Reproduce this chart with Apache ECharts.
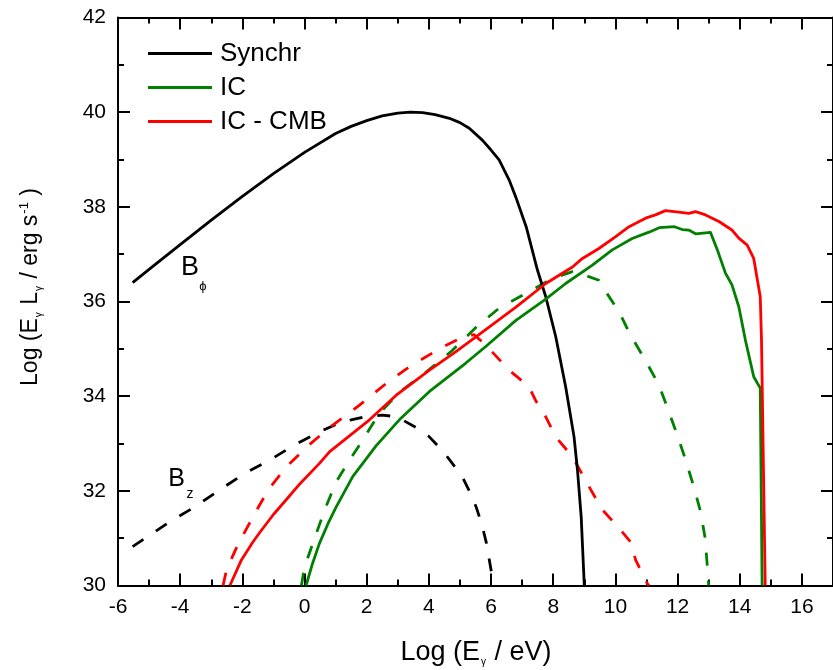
<!DOCTYPE html>
<html><head><meta charset="utf-8">
<script src="https://cdn.jsdelivr.net/npm/echarts@6/dist/echarts.min.js"></script>
<style>html,body{margin:0;padding:0;background:#fff}#c{width:833px;height:670px}</style>
</head><body><div id="c"></div><script>
// ---- axis settings ----
const xMin = -6, xMax = 17, xStep = 2;
const yMin = 30, yMax = 42, yStep = 2;
const legendNames = ['Synchr', 'IC', 'IC - CMB'];

// ---- B_phi (solid) curves: [log E, log EL] ----
const synchrPhi = [[-5.53,36.40],[-5,36.68],[-4,37.2],[-3,37.72],[-2,38.22],[-1,38.7],[0,39.15],[1,39.55],[1.5,39.7],[2,39.82],[2.5,39.92],[3,39.98],[3.4,40.0],[3.8,39.99],[4.2,39.95],[4.66,39.87],[5.0,39.78],[5.3,39.66],[5.72,39.41],[6.0,39.2],[6.26,38.99],[6.58,38.57],[6.8,38.2],[7.13,37.58],[7.49,36.67],[7.76,36.1],[8.08,35.26],[8.4,34.2],[8.67,33.14],[8.78,32.44],[8.9,31.45],[9.0,30.0]];
const icPhi = [[0.05,30.0],[0.25,30.45],[0.48,30.89],[0.75,31.3],[1.02,31.66],[1.55,32.3],[2.3,32.95],[3.05,33.5],[4.02,34.1],[5.19,34.7],[5.83,35.05],[6.8,35.6],[7.76,36.05],[8.4,36.38],[9.26,36.77],[9.9,37.09],[10.54,37.33],[11.1,37.47],[11.41,37.56],[11.9,37.58],[12.15,37.52],[12.36,37.51],[12.58,37.43],[13.06,37.46],[13.28,37.09],[13.54,36.6],[13.75,36.35],[13.97,35.89],[14.18,35.19],[14.45,34.41],[14.66,34.17],[14.72,30.0]];
const icCmbPhi = [[-2.4,30.0],[-2.03,30.54],[-1.66,30.92],[-1.44,31.12],[-1.0,31.5],[-0.5,31.88],[-0.16,32.14],[0.48,32.58],[0.81,32.83],[2.09,33.5],[2.95,34.02],[4.02,34.55],[4.87,34.94],[5.73,35.36],[6.8,35.88],[7.76,36.38],[8.62,36.73],[8.94,36.91],[9.47,37.12],[10.01,37.37],[10.44,37.58],[10.97,37.76],[11.29,37.83],[11.61,37.92],[12.04,37.89],[12.36,37.86],[12.58,37.9],[12.9,37.83],[13.33,37.69],[13.75,37.51],[13.97,37.34],[14.24,37.19],[14.45,36.91],[14.66,36.1],[14.7,35.19],[14.82,30.0]];

// ---- B_z (dashed) curves ----
const synchrZ = [[-5.53,30.82],[-4.33,31.35],[-3.53,31.66],[-2.73,32.02],[-1.92,32.37],[-1.12,32.65],[-0.32,32.97],[0.5,33.25],[1.0,33.4],[1.5,33.5],[2.0,33.57],[2.5,33.6],[2.9,33.57],[3.2,33.48],[3.53,33.36],[4.0,33.15],[4.44,32.85],[4.87,32.48],[5.08,32.29],[5.3,32.0],[5.52,31.66],[5.7,31.3],[5.85,30.9],[6.04,30.18],[6.08,30.0]];
const icZ = [[-0.1,30.0],[0.0,30.39],[0.38,31.1],[0.65,31.6],[1.02,32.19],[1.4,32.6],[1.77,32.97],[2.41,33.64],[3.05,34.08],[3.8,34.45],[4.76,34.97],[5.51,35.45],[6.26,35.86],[7.12,36.17],[7.98,36.49],[8.62,36.63],[9.0,36.56],[9.47,36.45],[9.69,36.21],[10.12,35.78],[10.44,35.35],[11.02,34.69],[11.4,34.24],[11.72,33.67],[11.99,33.18],[12.26,32.65],[12.52,32.09],[12.74,31.56],[12.88,31.03],[12.95,30.47],[13.0,30.0]];
const icCmbZ = [[-2.62,30.0],[-2.51,30.33],[-2.14,30.87],[-1.6,31.52],[-1.17,32.02],[-0.58,32.51],[0.16,32.98],[0.91,33.39],[1.77,33.81],[2.63,34.27],[3.37,34.62],[4.44,35.04],[5.0,35.22],[5.45,35.3],[5.83,35.08],[6.58,34.55],[7.22,34.2],[7.44,33.9],[7.65,33.71],[8.08,33.14],[8.62,32.72],[9.15,32.09],[9.58,31.6],[10.12,31.21],[10.49,30.92],[10.65,30.54],[11.02,30.05],[11.08,30.0]];

const FF = '"Liberation Sans", Arial, Helvetica, sans-serif';
const BLACK = '#000000', GREEN = '#008000', RED = '#ff0000';

const chart = echarts.init(document.getElementById('c'), null, {renderer: 'canvas'});

function xAx(pos, show) {
  return {
    type: 'value', position: pos, min: xMin, max: xMax, interval: xStep,
    axisLine: {show: true, onZero: false, lineStyle: {color: BLACK, width: 2}},
    axisTick: {show: true, inside: true, length: 12, lineStyle: {color: BLACK, width: 2}},
    minorTick: {show: true, splitNumber: 2, length: 6, lineStyle: {color: BLACK, width: 2}},
    axisLabel: {show: show, showMaxLabel: false, margin: 11, fontSize: 21, fontFamily: FF, color: BLACK},
    splitLine: {show: false}, minorSplitLine: {show: false}
  };
}
function yAx(pos, show) {
  return {
    type: 'value', position: pos, min: yMin, max: yMax, interval: yStep,
    axisLine: {show: true, onZero: false, lineStyle: {color: BLACK, width: 2}},
    axisTick: {show: true, inside: true, length: 12, lineStyle: {color: BLACK, width: 2}},
    minorTick: {show: true, splitNumber: 2, length: 6, lineStyle: {color: BLACK, width: 2}},
    axisLabel: {show: show, margin: 12, fontSize: 21, fontFamily: FF, color: BLACK},
    splitLine: {show: false}, minorSplitLine: {show: false}
  };
}
function line(name, data, color, dashed) {
  return {
    name: name, type: 'line', data: data, showSymbol: false, symbol: 'none',
    smooth: false, clip: true, animation: false,
    lineStyle: {color: color, width: 2.8, type: dashed ? [13, 15] : 'solid', cap: 'butt', join: 'round'},
    itemStyle: {color: color}, z: 3
  };
}

chart.setOption({
  backgroundColor: '#ffffff',
  animation: false,
  grid: {left: 118, top: 17.5, right: -1.5, bottom: 84.5, containLabel: false},
  xAxis: [xAx('bottom', true), xAx('top', false)],
  yAxis: [yAx('left', true), yAx('right', false)],
  legend: {
    data: legendNames.map(n => ({name: n, icon: 'rect'})), orient: 'vertical', left: 148, top: 40, padding: 0,
    itemWidth: 64, itemHeight: 3, itemGap: 7,
    textStyle: {fontSize: 26, fontFamily: FF, color: BLACK, lineHeight: 27, padding: [0, 0, 0, 3]}
  },
  series: [
    line('Synchr z', synchrZ, BLACK, true),
    line('IC z', icZ, GREEN, true),
    line('IC - CMB z', icCmbZ, RED, true),
    line('Synchr', synchrPhi, BLACK, false),
    line('IC', icPhi, GREEN, false),
    line('IC - CMB', icCmbPhi, RED, false)
  ],
  graphic: [
    {type: 'text', x: 31, y: 287, rotation: Math.PI / 2, z: 10,
     style: {text: '{n|Log (E}{s|γ}{n| L}{s|γ}{n| / erg s}{p|-1}{n| )}', align: 'center', verticalAlign: 'middle', fill: BLACK,
       rich: {n: {fontSize: 23, fontFamily: FF, fill: BLACK},
              s: {fontSize: 10, fontFamily: FF, fill: BLACK, padding: [16, 1, 0, 1]},
              p: {fontSize: 13, fontFamily: FF, fill: BLACK, padding: [0, 0, 14, 1]}}}},
    {type: 'text', x: 476, y: 653, z: 10,
     style: {text: '{n|Log (E}{s|γ}{n| / eV)}', align: 'center', verticalAlign: 'middle', fill: BLACK,
       rich: {n: {fontSize: 27, fontFamily: FF, fill: BLACK},
              s: {fontSize: 10, fontFamily: FF, fill: BLACK, padding: [18, 1, 0, 1]}}}},
    {type: 'text', x: 190, y: 268, z: 10, style: {text: 'B', fontSize: 27, fontFamily: FF, fill: BLACK, align: 'center', verticalAlign: 'middle'}},
    {type: 'text', x: 203, y: 286, z: 10, style: {text: 'ϕ', fontSize: 13, fontFamily: FF, fill: BLACK, align: 'center', verticalAlign: 'middle'}},
    {type: 'text', x: 176.5, y: 479, z: 10, style: {text: 'B', fontSize: 25, fontFamily: FF, fill: BLACK, align: 'center', verticalAlign: 'middle'}},
    {type: 'text', x: 190, y: 494, z: 10, style: {text: 'z', fontSize: 14, fontFamily: FF, fill: BLACK, align: 'center', verticalAlign: 'middle'}}
  ]
});
</script></body></html>
